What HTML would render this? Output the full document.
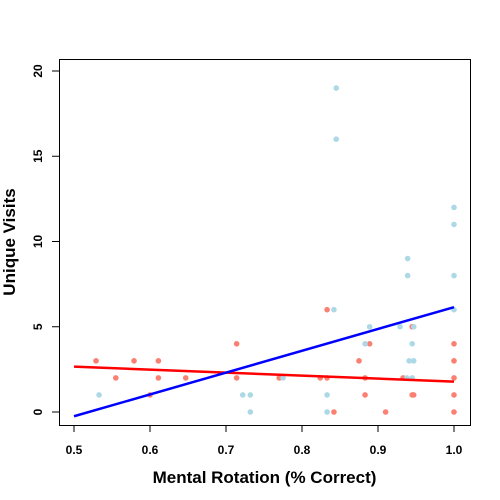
<!DOCTYPE html>
<html><head><meta charset="utf-8"><style>body{margin:0;background:#fff}svg{display:block;font-family:"Liberation Sans",sans-serif}</style></head>
<body>
<svg id="chart" width="500" height="500"></svg>
<script>
const redX=[0.529,0.579,0.611,0.555,0.611,0.647,0.6,0.714,0.714,0.833,0.945,0.889,0.875,1.0,1.0,1.0,1.0,1.0,0.770,0.824,0.833,0.883,0.933,0.883,0.945,0.947,0.842,0.91,0.945];
const redY=[3,3,3,2,2,2,1,4,2,6,5,4,3,4,3,2,1,0,2,2,2,2,2,1,1,1,0,0,5];
const blueX=[0.533,0.722,0.732,0.732,0.842,0.889,0.929,0.947,1.0,0.883,0.945,0.941,0.947,0.775,0.938,0.945,0.833,0.833,0.845,0.845,0.939,0.939,1.0,1.0,1.0];
const blueY=[1,1,1,0,6,5,5,5,6,4,4,3,3,2,2,2,1,0,19,16,9,8,12,11,8];
const redLine=[2.66,1.78];
const blueLine=[-0.25,6.15];
const xTicks=[0.5,0.6,0.7,0.8,0.9,1.0];
const xTickLabels=["0.5","0.6","0.7","0.8","0.9","1.0"];
const yTicks=[0,5,10,15,20];
const yTickLabels=["0","5","10","15","20"];
const NS="http://www.w3.org/2000/svg";
const svg=document.getElementById('chart');
const X=v=>74+(v-0.5)*760;
const Y=v=>412-v*17.05;
function mk(t,a){const e=document.createElementNS(NS,t);for(const k in a)e.setAttribute(k,a[k]);svg.appendChild(e);return e;}
let f=mk('rect',{x:59.5,y:59.5,width:411,height:366,fill:'none',stroke:'#000'});


xTicks.forEach((v,i)=>{
 let l=mk('line',{x1:X(v),x2:X(v),y1:425,y2:432,stroke:'#000'});
 
 
 let t=mk('text',{x:X(v),y:454,'text-anchor':'middle','font-size':12,'font-weight':'bold'});
 t.textContent=xTickLabels[i];
 
 
});
yTicks.forEach((v,i)=>{
 let l=mk('line',{x1:52,x2:59,y1:Y(v),y2:Y(v),stroke:'#000'});
 
 
 let t=mk('text',{x:0,y:0,'text-anchor':'middle','font-size':12,'font-weight':'bold',transform:`translate(42,${Y(v)}) rotate(-90)`});
 t.textContent=yTickLabels[i];
 
 
});
redX.forEach((x,i)=>{
 let c=mk('circle',{cx:X(x),cy:Y(redY[i]),r:2.8,fill:'#fa8072'});
 
 
});
blueX.forEach((x,i)=>{
 let c=mk('circle',{cx:X(x),cy:Y(blueY[i]),r:2.8,fill:'#add8e6'});
 
 
});
let rl=mk('line',{x1:X(0.5),y1:Y(redLine[0]),x2:X(1.0),y2:Y(redLine[1]),stroke:'#f00','stroke-width':2.5});


let bl=mk('line',{x1:X(0.5),y1:Y(blueLine[0]),x2:X(1.0),y2:Y(blueLine[1]),stroke:'#00f','stroke-width':2.5});


let xt=mk('text',{x:264.5,y:483,'text-anchor':'middle','font-size':17,'font-weight':'bold'});
xt.textContent='Mental Rotation (% Correct)';


let yt=mk('text',{x:0,y:0,'text-anchor':'middle','font-size':17,'font-weight':'bold',transform:'translate(15,242) rotate(-90)'});
yt.textContent='Unique Visits';


</script>
</body></html>
